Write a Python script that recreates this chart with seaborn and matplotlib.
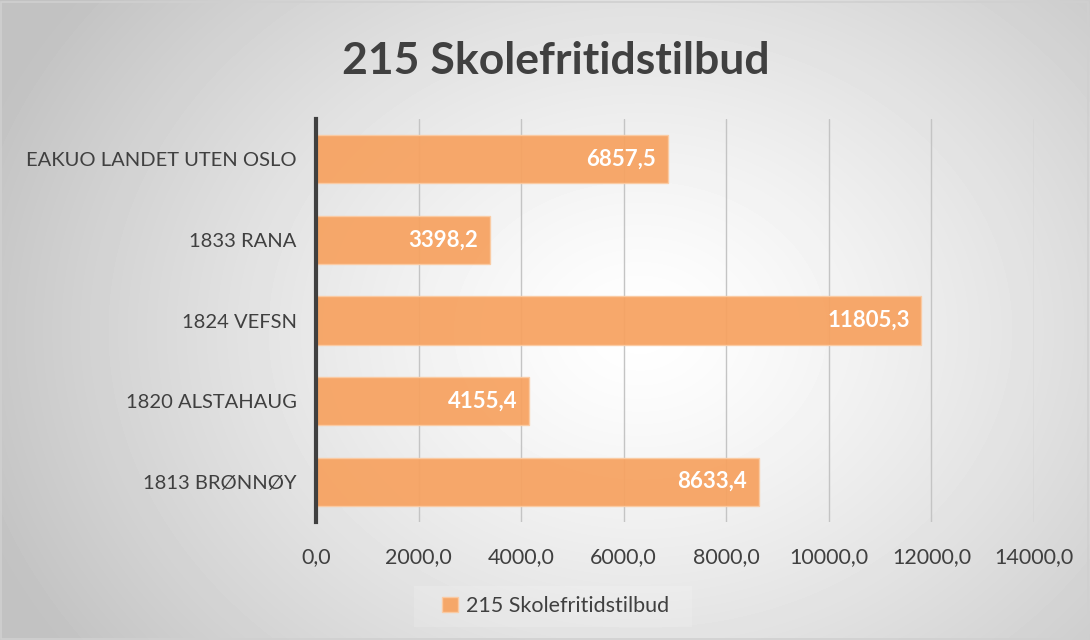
import numpy as np
import pandas as pd
import matplotlib.pyplot as plt
import seaborn as sns

# Data
kommuner = ["EAKUO LANDET UTEN OSLO", "1833 RANA", "1824 VEFSN", "1820 ALSTAHAUG", "1813 BRØNNØY"]
verdier = [6857.5, 3398.2, 11805.3, 4155.4, 8633.4]
serie = "215 Skolefritidstilbud"
x_ticks = [0, 2000, 4000, 6000, 8000, 10000, 12000, 14000]

df = pd.DataFrame({"kommune": kommuner, "verdi": verdier})

sns.set_style("white")
plt.rcParams['font.family'] = ['Lato', 'DejaVu Sans']

fig = plt.figure(figsize=(10.9, 6.4), dpi=100)

# radial grey-to-white background like the office chart style
bg = fig.add_axes([0, 0, 1, 1], zorder=-5)
yy, xx = np.mgrid[0:640, 0:1090]
r = np.sqrt(((xx - 640) / 700) ** 2 + ((yy - 330) / 560) ** 2)
shade = np.clip(1 - 0.24 * r ** 1.3, 0.76, 1)
bg.imshow(shade, cmap="gray", vmin=0, vmax=1, aspect="auto", extent=[0, 1, 0, 1])
bg.add_patch(plt.Rectangle((0.001, 0.002), 0.997, 0.995, fill=False, ec="#d0d0d0", lw=1.2,
                           transform=bg.transAxes))
bg.add_patch(plt.Rectangle((0.38, 0.02), 0.255, 0.065, fc="white", alpha=0.15, ec="none",
                           transform=bg.transAxes))
bg.axis("off")

ax = fig.add_axes([316 / 1090, 1 - 522 / 640, (1034 - 316) / 1090, (522 - 119) / 640])
ax.patch.set_alpha(0)

sns.barplot(data=df, x="verdi", y="kommune", orient="h", color="#F7A260", saturation=1,
            width=0.6, edgecolor="#FBCBA3", linewidth=1, alpha=0.93, ax=ax, zorder=3,
            label=serie)

ax.set_xlim(0, 14000)
ax.set_xticks(x_ticks)
ax.set_xticklabels([f"{t:.1f}".replace(".", ",") for t in x_ticks])
ax.grid(axis="x", color="#c4c4c4", lw=1, zorder=0)
ax.set_xlabel("")
ax.set_ylabel("")
for s in ["top", "right", "bottom"]:
    ax.spines[s].set_visible(False)
ax.spines["left"].set_color("#404040")
ax.spines["left"].set_linewidth(3)
ax.spines["left"].set_zorder(5)
ax.tick_params(axis="x", length=0, pad=18, labelsize=15.5, labelcolor="#404040")
ax.tick_params(axis="y", length=0, pad=14, labelsize=14.5, labelcolor="#404040")

for i, v in enumerate(verdier):
    ax.text(v - 230, i, f"{v:.1f}".replace(".", ","), ha="right", va="center",
            color="white", fontsize=16, fontweight="bold", zorder=6)

fig.text(0.51, 0.905, serie, ha="center", va="center", fontsize=32, fontweight="bold",
         color="#404040")

ax.legend(loc="center", bbox_to_anchor=(0.51, 0.053), bbox_transform=fig.transFigure,
          frameon=False, fontsize=15.5, handlelength=0.7, handleheight=0.7,
          handletextpad=0.4, labelcolor="#404040")

fig.savefig("out.png", dpi=100)
